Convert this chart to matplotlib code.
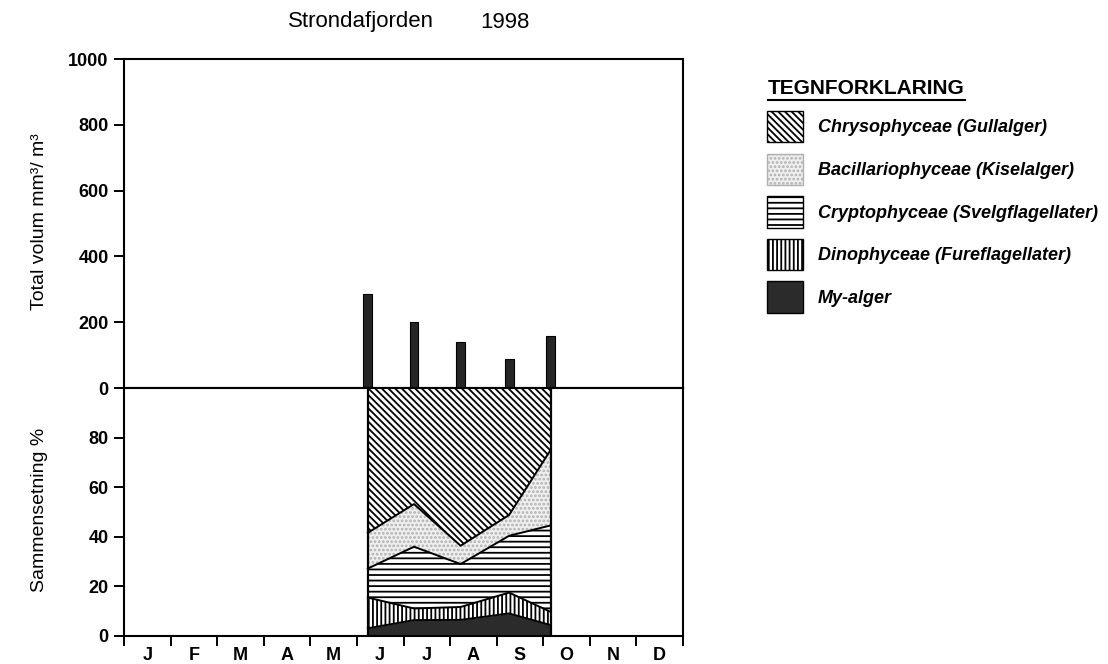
import calendar
import matplotlib
matplotlib.use('Agg')
import matplotlib.pyplot as plt
from matplotlib.patches import Patch
from matplotlib.lines import Line2D

# sampling dates (1998) and total volume (mm3/m3)
sample_dates = ['1998-06-08', '1998-07-08', '1998-08-08', '1998-09-09', '1998-10-06']
total_volume = [286, 200, 141, 87, 159]

# composition in percent, bottom to top
my_alger = [3.1, 6.4, 6.5, 9.1, 4.4]
dinophyceae = [12.4, 4.7, 5.2, 8.4, 5.3]
cryptophyceae = [11.7, 24.9, 17.3, 22.9, 34.9]
bacillariophyceae = [14.4, 17.2, 7.4, 8.4, 30.5]
chrysophyceae = [58.4, 46.8, 63.6, 51.2, 24.9]

months = ['J', 'F', 'M', 'A', 'M', 'J', 'J', 'A', 'S', 'O', 'N', 'D']

labels = ['Chrysophyceae (Gullalger)', 'Bacillariophyceae (Kiselalger)',
          'Cryptophyceae (Svelgflagellater)', 'Dinophyceae (Fureflagellater)',
          'My-alger']

plt.rcParams['font.family'] = ['Liberation Sans', 'DejaVu Sans']
plt.rcParams['hatch.linewidth'] = 1.3


def month_pos(d):
    y, m, day = (int(p) for p in d.split('-'))
    return (m - 1) + (day - 1) / calendar.monthrange(y, m)[1]


x = [month_pos(d) for d in sample_dates]

fig = plt.figure(figsize=(11.08, 6.64), dpi=100)
L, R = 124 / 1108, 683 / 1108
ax1 = fig.add_axes([L, 1 - 388 / 664, R - L, (388 - 59) / 664])
ax2 = fig.add_axes([L, 1 - 636 / 664, R - L, (636 - 388) / 664], sharex=ax1)

tick_font = dict(fontsize=13, fontweight='bold')

# Top panel: total volume bars
ax1.bar(x, total_volume, width=0.19, color='#262626', edgecolor='black', linewidth=0.8)
ax1.set_ylim(0, 1000)
ax1.set_yticks(range(0, 1001, 200))
ax1.set_yticklabels([str(v) for v in range(0, 1001, 200)], **tick_font)
ax1.tick_params(axis='x', which='both', bottom=False, labelbottom=False)

# Bottom panel: stacked composition
layers = [my_alger, dinophyceae, cryptophyceae, bacillariophyceae, chrysophyceae]
styles = [
    dict(facecolor='#2b2b2b', edgecolor='#2b2b2b', hatch=None),
    dict(facecolor='white', edgecolor='black', hatch='||||'),
    dict(facecolor='white', edgecolor='black', hatch='---'),
    dict(facecolor='#efefef', edgecolor='#b0b0b0', hatch='....'),
    dict(facecolor='white', edgecolor='black', hatch='\\\\\\\\\\'),
]
base = [0] * len(x)
for vals, st in zip(layers, styles):
    top = [b + v for b, v in zip(base, vals)]
    ax2.fill_between(x, base, top, linewidth=0, **st)
    ax2.plot(x, top, color='black', lw=1.4)
    base = top
ax2.plot(x, [0] * len(x), color='black', lw=1.4)
ax2.vlines([x[0], x[-1]], 0, 100, color='black', lw=1.6)

ax2.set_ylim(0, 100)
ax2.set_yticks(range(0, 81, 20))
ax2.set_yticklabels([str(v) for v in range(0, 81, 20)], **tick_font)
ax2.set_xlim(0, 12)
ax2.set_xticks(range(0, 13))
ax2.set_xticklabels([])
ax2.set_xticks([i + 0.5 for i in range(12)], minor=True)
ax2.set_xticklabels(months, minor=True, **tick_font)
ax2.tick_params(axis='x', which='minor', length=0, pad=8)
ax2.tick_params(axis='x', which='major', direction='out', length=7, width=1.4)

for ax in (ax1, ax2):
    ax.tick_params(axis='y', direction='out', length=7, width=1.4, pad=4)
    for s in ax.spines.values():
        s.set_linewidth(1.5)

fig.text(288 / 1108, 1 - 22 / 664, 'Strondafjorden', ha='left', va='center', fontsize=16)
fig.text(480 / 1108, 1 - 22 / 664, '1998', ha='left', va='center', fontsize=16)
fig.text(40 / 1108, 1 - 222 / 664, 'Total volum mm\u00b3/ m\u00b3', rotation=90,
         ha='center', va='center', fontsize=14)
fig.text(40 / 1108, 1 - 510 / 664, 'Sammensetning %', rotation=90,
         ha='center', va='center', fontsize=14)

# Legend
handles = [Patch(**styles[4]), Patch(**styles[3]), Patch(**styles[2]),
           Patch(**styles[1]), Patch(facecolor='#2b2b2b', edgecolor='black')]
leg = fig.legend(handles, labels, loc='upper left',
                 bbox_to_anchor=(767 / 1108, 1 - 111 / 664), bbox_transform=fig.transFigure,
                 frameon=False, borderpad=0, borderaxespad=0,
                 handlelength=2.0, handleheight=2.3, labelspacing=0.62, handletextpad=0.8,
                 prop=dict(size=13, weight='bold', style='italic'))

title = fig.text(768 / 1108, 1 - 88 / 664, 'TEGNFORKLARING', ha='left', va='center',
                 fontsize=15, fontweight='bold')
fig.canvas.draw()
bb = title.get_window_extent(fig.canvas.get_renderer()).transformed(fig.transFigure.inverted())
fig.add_artist(Line2D([bb.x0, bb.x1], [bb.y0 - 0.004, bb.y0 - 0.004],
                      transform=fig.transFigure, color='black', lw=1.5))

fig.savefig('out.png', dpi=100)
